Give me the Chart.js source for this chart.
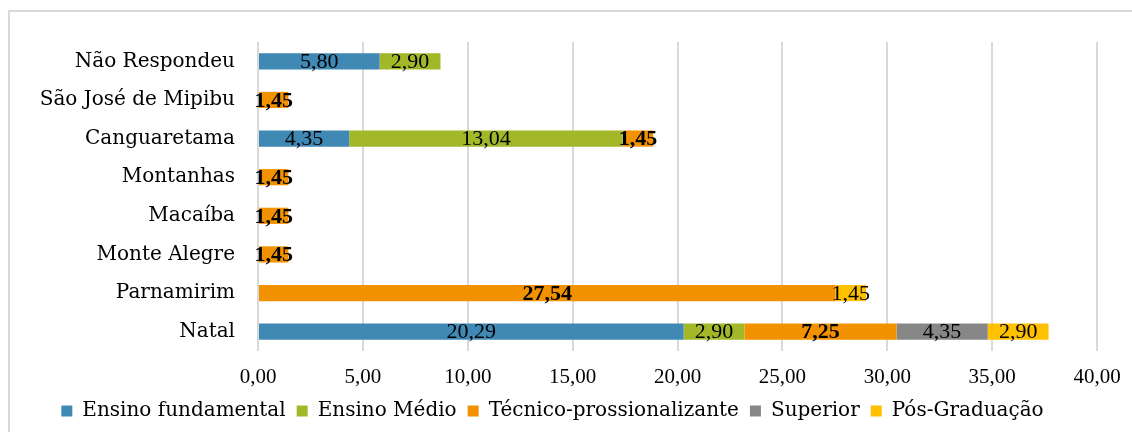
<!DOCTYPE html>
<html>
<head>
<meta charset="utf-8">
<script src="https://cdn.jsdelivr.net/npm/chart.js@4"></script>
<style>
  body { margin: 0; background: #fff; overflow: hidden; }
  #frame { position: absolute; left: 8px; top: 10px; width: 1124px; height: 422px; border-left: 2px solid #d9d9d9; border-top: 2px solid #d9d9d9; box-sizing: border-box; }
  #wrap { position: absolute; left: 0; top: 0; width: 1132px; height: 432px; }
</style>
</head>
<body>
<div id="frame"></div>
<div id="wrap"><canvas id="myChart"></canvas></div>
<script>
const cidades = ['Não Respondeu', 'São José de Mipibu', 'Canguaretama', 'Montanhas', 'Macaíba', 'Monte Alegre', 'Parnamirim', 'Natal'];
const fundamental = [5.80, null, 4.35, null, null, null, null, 20.29];
const medio = [2.90, null, 13.04, null, null, null, null, 2.90];
const tecnico = [null, 1.45, 1.45, 1.45, 1.45, 1.45, 27.54, 7.25];
const superior = [null, null, null, null, null, null, null, 4.35];
const posGrad = [null, null, null, null, null, null, 1.45, 2.90];
const xTicks = [0, 5, 10, 15, 20, 25, 30, 35, 40];

// rótulos no meio de cada pedaço da barra
const rotulos = {
  id: 'rotulos',
  afterDatasetsDraw(chart) {
    const c = chart.ctx;
    c.save();
    c.textAlign = 'center';
    c.textBaseline = 'middle';
    c.fillStyle = '#000';
    chart.data.datasets.forEach(function (ds, i) {
      const meta = chart.getDatasetMeta(i);
      c.font = (ds.negrito ? 'bold ' : '') + '22px "Liberation Serif"';
      meta.data.forEach(function (bar, j) {
        const v = ds.data[j];
        if (v == null) return;
        c.fillText(v.toFixed(2).replace('.', ','), (bar.x + bar.base) / 2, bar.y + 1);
      });
    });
    c.restore();
  }
};

const ctx = document.getElementById('myChart');
new Chart(ctx, {
  type: 'bar',
  data: {
    labels: cidades,
    datasets: [
      { label: 'Ensino fundamental', data: fundamental, backgroundColor: '#4189b5' },
      { label: 'Ensino Médio', data: medio, backgroundColor: '#a3b829' },
      { label: 'Técnico-prossionalizante', data: tecnico, backgroundColor: '#f39200', negrito: true },
      { label: 'Superior', data: superior, backgroundColor: '#878787' },
      { label: 'Pós-Graduação', data: posGrad, backgroundColor: '#ffc000' }
    ]
  },
  options: {
    indexAxis: 'y',
    responsive: true,
    maintainAspectRatio: false,
    animation: false,
    barPercentage: 0.42,
    categoryPercentage: 1,
    layout: { padding: { left: 8, right: 35, top: 42, bottom: 1 } },
    scales: {
      x: {
        stacked: true,
        min: 0,
        max: 40,
        afterBuildTicks: function (scale) {
          scale.ticks = xTicks.map(function (v) { return { value: v }; });
        },
        afterFit: function (scale) {
          scale.height = 39;
          scale.paddingLeft = 0;
          scale.paddingRight = 0;
        },
        grid: { color: '#d9d9d9', lineWidth: 2, drawTicks: false },
        border: { display: false },
        ticks: {
          padding: 14,
          color: '#000',
          font: { family: 'Liberation Serif', size: 21 },
          callback: function (v) { return v.toFixed(2).replace('.', ','); }
        }
      },
      y: {
        stacked: true,
        afterFit: function (scale) { scale.width = 250; },
        grid: { display: false },
        border: { display: false },
        ticks: {
          padding: 15,
          color: '#000',
          font: { family: 'DejaVu Serif', size: 20 }
        }
      }
    },
    plugins: {
      legend: {
        position: 'bottom',
        labels: {
          color: '#000',
          boxWidth: 11,
          boxHeight: 11,
          padding: 11,
          font: { family: 'DejaVu Serif', size: 20 }
        }
      },
      tooltip: { enabled: false }
    }
  },
  plugins: [rotulos]
});
</script>
</body>
</html>
